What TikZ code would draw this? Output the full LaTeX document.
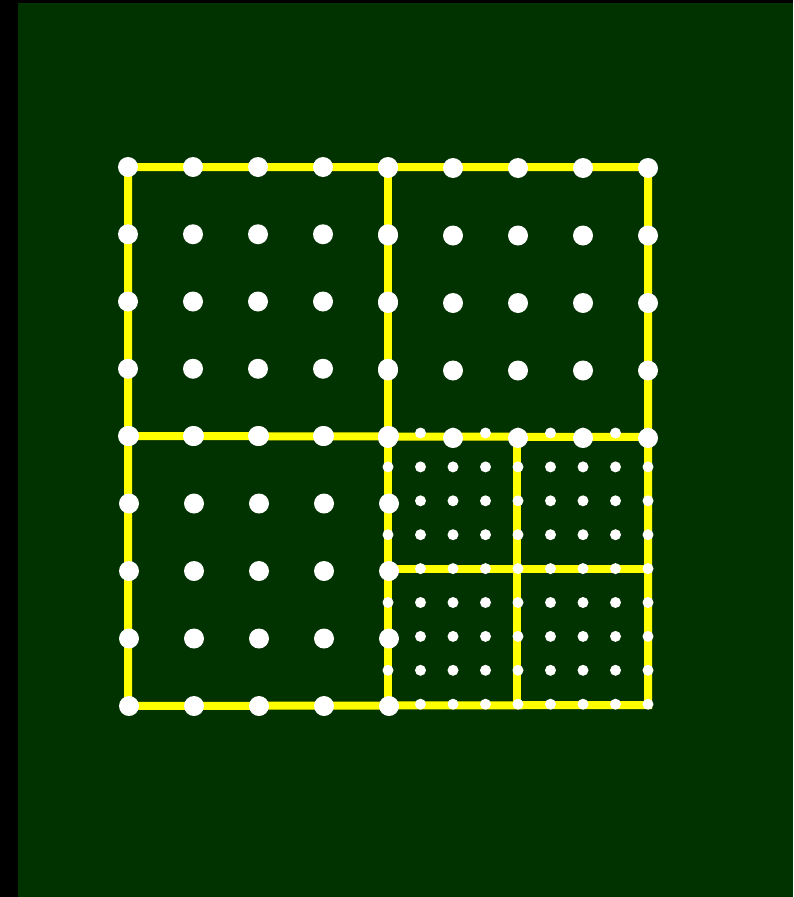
\documentclass[tikz,border=0pt]{standalone}
\definecolor{bg}{HTML}{003300}
\definecolor{lineyellow}{HTML}{FFFF00}
\begin{document}
\begin{tikzpicture}[x=1pt,y=-1pt,
  bigdot/.style={circle,fill=white,inner sep=0pt,minimum size=20pt},
  smalldot/.style={circle,fill=white,inner sep=0pt,minimum size=11pt},
  edgeline/.style={draw=lineyellow,line width=8pt}]
\useasboundingbox (0,0) rectangle (793,897);
\fill[black] (0,0) rectangle (793,897);
\fill[bg] (18,3) rectangle (793,897);
% corner coordinates
\coordinate (A) at (128,167);
\coordinate (B) at (388,167);
\coordinate (C) at (648,167);
\coordinate (D) at (128,436);
\coordinate (E) at (388,436);
\coordinate (F) at (648,437);
\coordinate (G) at (128,706);
\coordinate (H) at (388,706);
\coordinate (I) at (648,705);
\coordinate (J) at (517,437);
\coordinate (K) at (517,705);
\coordinate (L) at (388,569);
\coordinate (M) at (648,569);
% lines
\draw[edgeline] (A) -- (C) -- (I) -- (G) -- cycle;
\draw[edgeline] (B) -- (H);
\draw[edgeline] (D) -- (F);
\draw[edgeline] (J) -- (K);
\draw[edgeline] (L) -- (M);
% small dots (bottom-right quadrant)
\foreach \i in {0,...,8}
  \foreach \j in {0,...,8}
    \node[smalldot] (s-\i-\j) at (388+32.5*\i,433+33.9*\j) {};
% big dots
\foreach \i in {0,...,4}
  \foreach \j in {0,...,4}{
    \node[bigdot] (tl-\i-\j) at (128+65*\i,167+67.25*\j) {};
    \node[bigdot] (tr-\i-\j) at (388+65*\i,168+67.5*\j) {};
    \node[bigdot] (bl-\i-\j) at (129+65*\i,436+67.5*\j) {};
  }
\end{tikzpicture}
\end{document}
